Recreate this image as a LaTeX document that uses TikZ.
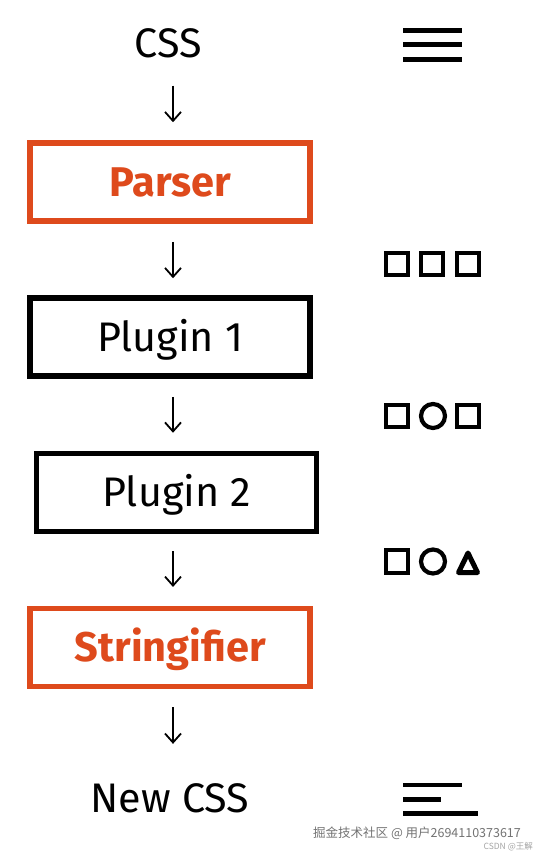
\documentclass[tikz,border=0pt]{standalone}
\usepackage{fontspec}
\setmainfont{Fira Sans}
\newfontfamily\cjkfont{Noto Sans CJK SC}
\usetikzlibrary{arrows.meta}
\definecolor{pcred}{RGB}{222,74,28}
\definecolor{wmgray}{RGB}{115,115,115}
\definecolor{wmlight}{RGB}{165,165,165}
\begin{document}
\begin{tikzpicture}[x=1pt,y=-1pt,
  lbl/.style={inner sep=0pt, font=\fontsize{41.3}{48}\selectfont},
  box/.style={draw, line width=5.5pt, minimum width=280pt, minimum height=78pt,
    inner sep=0pt, text height=28.5pt, text depth=0pt},
  redbox/.style={box, draw=pcred, text=pcred, font=\fontsize{41.5}{48}\selectfont\bfseries},
  blackbox/.style={box, draw=black, font=\fontsize{41.3}{48}\selectfont},
  arr/.style={line width=1.8pt, -{Straight Barb[length=9pt,width=16pt]}},
  bar/.style={line width=4.5pt},
  shp/.style={line width=4.2pt},
  tri/.style={line width=5pt, line join=round}]
\useasboundingbox (0,0) rectangle (542,856);
\fill[white] (0,0) rectangle (542,856);

% main column
\node[lbl, anchor=base] (css) at (168.5,58) {CSS};
\node[redbox] (parser) at (170.2,182) {Parser};
\node[blackbox] (plug1) at (170,337) {Plugin 1};
\node[blackbox] (plug2) at (176.5,492.5) {Plugin 2};
\node[redbox] (string) at (170.2,647.7) {Stringifier};
\node[lbl, anchor=base] (newcss) at (170,812) {New CSS};

\coordinate (ax) at (173,0);
\draw[arr, shorten <=27pt, shorten >=18pt] (css.south -| ax) -- (parser.north -| ax);
\draw[arr, shorten <=18pt, shorten >=17pt] (parser.south -| ax) -- (plug1.north -| ax);
\draw[arr, shorten <=18pt, shorten >=18pt] (plug1.south -| ax) -- (plug2.north -| ax);
\draw[arr, shorten <=17pt, shorten >=19pt] (plug2.south -| ax) -- (string.north -| ax);
\draw[arr, shorten <=18pt, shorten >=39pt] (string.south -| ax) -- (newcss.north -| ax);

% icons: source text
\draw[bar] (403,30.5) -- (462,30.5);
\draw[bar] (403,44.5) -- (462,44.5);
\draw[bar] (403,59.5) -- (462,59.5);

% row 1
\draw[shp] (386,253) rectangle (408,275);
\draw[shp] (421,253) rectangle (443,275);
\draw[shp] (457,253) rectangle (479,275);
% row 2
\draw[shp] (386,405) rectangle (408,427);
\draw[shp] (433,416) circle (12);
\draw[shp] (457,405) rectangle (479,427);
% row 3
\draw[shp] (386,550) rectangle (408,573);
\draw[shp] (433,561.5) circle (12);
\draw[tri] (458.5,572.5) -- (477.5,572.5) -- (468,553) -- cycle;

% icons: output text
\draw[bar] (403,785) -- (462,785);
\draw[bar] (403,799.5) -- (441,799.5);
\draw[bar] (403,813.5) -- (478,813.5);

% watermark
\node[anchor=base west, inner sep=0pt, text=wmgray, font=\cjkfont\fontsize{12.5}{14}\selectfont] (wm) at (313,837) {掘金技术社区 @ 用户2694110373617};
\node[anchor=base east, inner sep=0pt, text=wmlight, font=\cjkfont\fontsize{8.5}{10}\selectfont] (csdn) at (533,849) {CSDN @王解};
\end{tikzpicture}
\end{document}
